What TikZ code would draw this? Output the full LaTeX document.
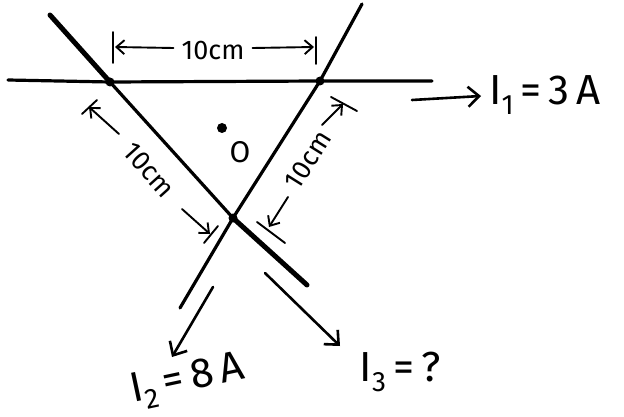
\documentclass[tikz,border=0pt]{standalone}
\usepackage{fontspec}
\setmainfont{Fira Sans}
\usetikzlibrary{arrows.meta}
\newcommand{\mysub}[1]{\raisebox{-0.25em}{\fontsize{28}{28}\selectfont #1}}
\begin{document}
\begin{tikzpicture}[x=1pt,y=-1pt,
  wire/.style={line width=3.2pt, line cap=round},
  thickwire/.style={line width=5pt, line cap=round},
  cur/.style={line width=2.6pt, line cap=round, -{Straight Barb[length=11pt,width=20pt,line width=2.6pt]}},
  dimarrow/.style={line width=1.9pt, line cap=round, -{Straight Barb[length=8pt,width=14pt,line width=1.9pt]}},
  tickline/.style={line width=1.9pt, line cap=round},
  lbl/.style={font=\fontsize{27}{27}\selectfont, inner sep=0pt},
  big/.style={font=\fontsize{42}{42}\selectfont, inner sep=0pt},
  jdot/.style={circle, fill, inner sep=0pt, minimum size=9pt}]
\useasboundingbox (0,0) rectangle (624,417);
% junctions and wire ends
\coordinate (A) at (110,82);
\coordinate (B) at (320,81);
\coordinate (C) at (233,218);
\coordinate (hl) at (8,80);
\coordinate (hr) at (432,81);
\coordinate (lt) at (50,15);
\coordinate (lb) at (307,285);
\coordinate (rt) at (362,4);
\coordinate (rb) at (180,308);
% wires
\draw[wire] (hl) -- (A) -- (B) -- (hr);
\draw[thickwire] (lt) -- (A);
\draw[wire] (A) -- (C);
\draw[thickwire] (C) -- (lb);
\draw[wire] (rt) -- (B) -- (C) -- (rb);
\node[jdot] (dA) at (A) {};
\node[jdot] (dB) at (B) {};
\node[jdot] (dC) at (C) {};
% point O
\node[jdot, minimum size=10pt] (dO) at (222,128) {};
\node[lbl, font=\fontsize{30}{30}\selectfont] (O) at (240,152) {O};
% currents
\coordinate (i1s) at (412,100);
\coordinate (i1e) at (481,96);
\draw[cur] (i1s) -- (i1e);
\node[big, anchor=west] (I1) at (489,95) {I\mysub{1}\,=\,3\,A};
\coordinate (i2s) at (213,287);
\coordinate (i2e) at (172,357);
\draw[cur] (i2s) -- (i2e);
\node[big, rotate=12] (I2) at (188,381) {I\mysub{2}\,=\,8\,A};
\coordinate (i3s) at (265,273);
\coordinate (i3e) at (340,346);
\draw[cur] (i3s) -- (i3e);
\node[big] (I3) at (400,372) {I\mysub{3}\,=\,?};
% top dimension
\node[lbl] (t10) at (213,50) {10cm};
\coordinate (tl1) at (113,32); \coordinate (tl2) at (113,63);
\coordinate (tr1) at (316,37); \coordinate (tr2) at (316,64);
\draw[tickline] (tl1) -- (tl2);
\draw[tickline] (tr1) -- (tr2);
\draw[dimarrow] (t10.west) ++(-8,-2) coordinate (ta) -- (115,47);
\draw[dimarrow] (t10.east) ++(8,-2) coordinate (tb) -- (314,47);
% left dimension
\node[lbl, rotate=-48] (l10) at (149,170) {10cm};
\coordinate (la1) at (119,134); \coordinate (la2) at (89,107);
\coordinate (lb1) at (182,209); \coordinate (lb2) at (210,234);
\draw[dimarrow] (la1) -- (la2);
\draw[dimarrow] (lb1) -- (lb2);
\coordinate (lt1) at (82,114); \coordinate (lt2) at (97,100);
\draw[tickline] (lt1) -- (lt2);
\coordinate (lt3) at (204,243); \coordinate (lt4) at (218,226);
\draw[tickline] (lt3) -- (lt4);
% right dimension
\node[lbl, rotate=58] (r10) at (308,160) {10cm};
\coordinate (ra1) at (322,125); \coordinate (ra2) at (343,104);
\coordinate (rb1) at (288,197); \coordinate (rb2) at (269,227);
\draw[dimarrow] (ra1) -- (ra2);
\draw[dimarrow] (rb1) -- (rb2);
\coordinate (rt1) at (331,97); \coordinate (rt2) at (357,111);
\draw[tickline] (rt1) -- (rt2);
\coordinate (rt3) at (257,222); \coordinate (rt4) at (285,243);
\draw[tickline] (rt3) -- (rt4);
\end{tikzpicture}
\end{document}
